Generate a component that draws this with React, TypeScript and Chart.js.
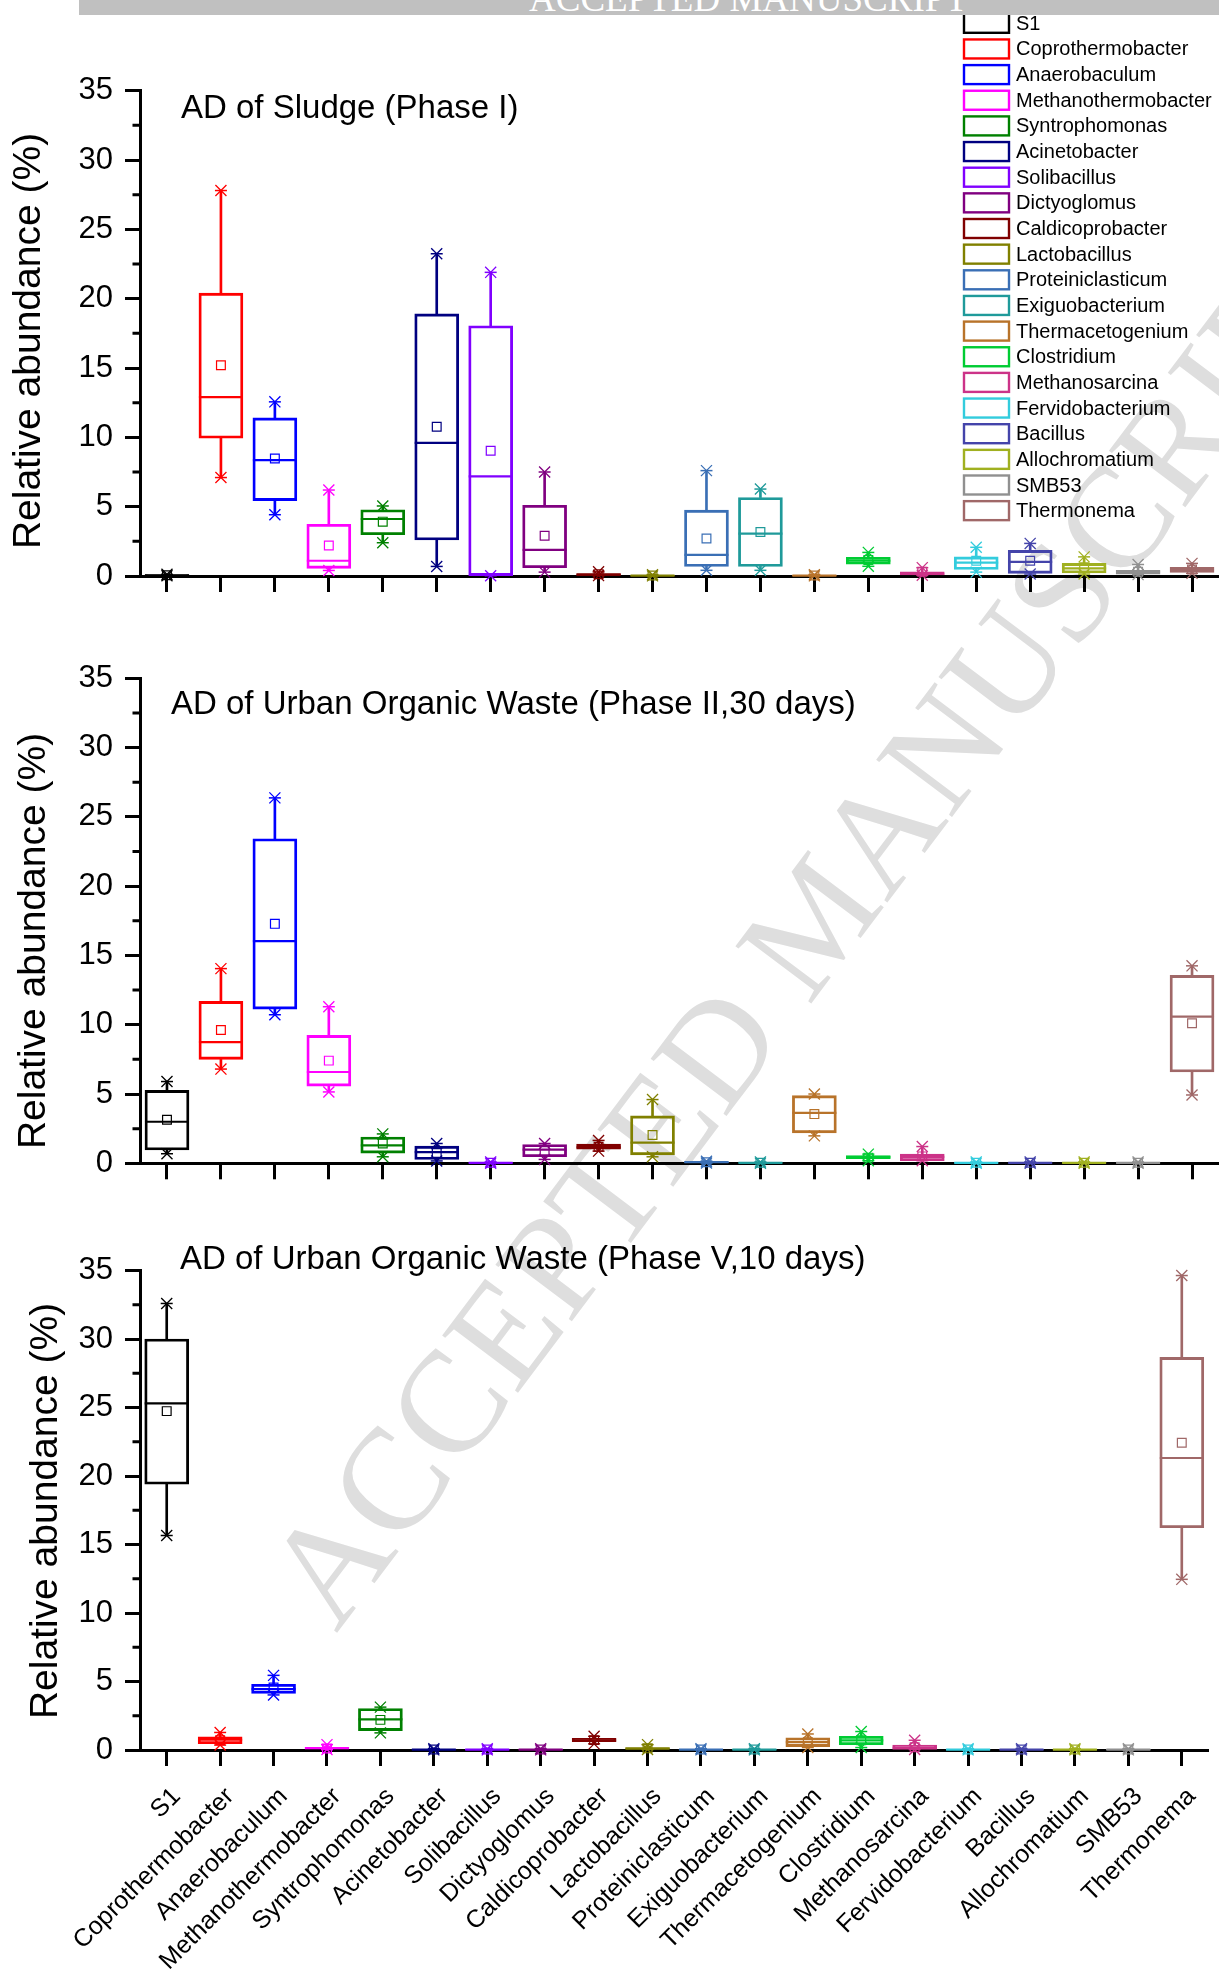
import React, { useEffect, useRef } from 'react';
import { Chart, registerables } from 'chart.js';

Chart.register(...registerables);

// ---------- data ----------
const categories = [
  'S1', 'Coprothermobacter', 'Anaerobaculum', 'Methanothermobacter', 'Syntrophomonas',
  'Acinetobacter', 'Solibacillus', 'Dictyoglomus', 'Caldicoprobacter', 'Lactobacillus',
  'Proteiniclasticum', 'Exiguobacterium', 'Thermacetogenium', 'Clostridium', 'Methanosarcina',
  'Fervidobacterium', 'Bacillus', 'Allochromatium', 'SMB53', 'Thermonema',
];

const colors = [
  '#000000', '#FF0000', '#0000FF', '#FF00FF', '#008000',
  '#000080', '#8000FF', '#800080', '#800000', '#808000',
  '#3A6FB5', '#1F9A9A', '#B8732A', '#00CC33', '#CC3388',
  '#33CCDD', '#4444AA', '#A0B020', '#909090', '#A06868',
];

const yTickValues = [0, 5, 10, 15, 20, 25, 30, 35];

// Panel 1: AD of Sludge (Phase I)
const p1Min = [0.02, 7.1, 4.42, 0.4, 2.4, 0.69, 0.02, 0.28, 0.03, 0.01, 0.41, 0.41, 0.01, 0.7, 0.05, 0.28, 0.14, 0.14, 0.1, 0.19];
const p1Q1 = [0.03, 9.94, 5.44, 0.55, 2.98, 2.6, 0.03, 0.6, 0.05, 0.02, 0.69, 0.69, 0.02, 0.85, 0.08, 0.47, 0.19, 0.22, 0.14, 0.25];
const p1Med = [0.05, 12.9, 8.36, 1.1, 4.11, 9.6, 7.18, 1.88, 0.1, 0.03, 1.52, 3.06, 0.03, 1.1, 0.15, 0.97, 1.02, 0.55, 0.28, 0.44];
const p1Mean = [0.06, 15.2, 8.47, 2.2, 3.92, 10.76, 9.03, 2.9, 0.12, 0.04, 2.7, 3.17, 0.04, 1.15, 0.3, 1.1, 1.1, 0.63, 0.3, 0.47];
const p1Q3 = [0.1, 20.4, 11.4, 3.73, 4.78, 18.9, 18.05, 5.1, 0.18, 0.05, 4.75, 5.66, 0.05, 1.35, 0.3, 1.38, 1.85, 0.91, 0.41, 0.63];
const p1Max = [0.12, 27.8, 12.56, 6.2, 5.05, 23.24, 21.9, 7.5, 0.3, 0.1, 7.6, 6.27, 0.1, 1.7, 0.6, 2.07, 2.35, 1.38, 0.83, 0.91];

// Panel 2: AD of Urban Organic Waste (Phase II, 30 days)
const p2Min = [0.69, 6.8, 10.72, 5.15, 0.47, 0.17, 0.01, 0.28, 0.88, 0.47, 0.02, 0.01, 1.98, 0.19, 0.19, 0.01, 0.01, 0.01, 0.01, 4.93];
const p2Q1 = [0.96, 7.5, 11.13, 5.57, 0.74, 0.28, 0.02, 0.47, 1.02, 0.61, 0.05, 0.02, 2.2, 0.33, 0.19, 0.02, 0.02, 0.02, 0.02, 6.59];
const p2Med = [3.0, 8.74, 16.04, 6.59, 1.3, 0.8, 0.03, 0.99, 1.16, 1.49, 0.08, 0.03, 3.64, 0.44, 0.47, 0.03, 0.03, 0.03, 0.03, 10.58];
const p2Mean = [3.14, 9.62, 17.28, 7.41, 1.43, 0.74, 0.04, 0.88, 1.2, 2.04, 0.08, 0.04, 3.55, 0.41, 0.5, 0.04, 0.04, 0.04, 0.04, 10.11];
const p2Q3 = [5.26, 11.68, 23.42, 9.23, 1.9, 1.24, 0.05, 1.35, 1.38, 3.42, 0.12, 0.05, 4.88, 0.55, 0.66, 0.05, 0.05, 0.05, 0.05, 13.56];
const p2Max = [5.9, 14.05, 26.37, 11.3, 2.12, 1.43, 0.1, 1.43, 1.65, 4.6, 0.15, 0.1, 5.0, 0.66, 1.21, 0.1, 0.1, 0.1, 0.1, 14.25];

// Panel 3: AD of Urban Organic Waste (Phase V, 10 days)
const p3Min = [15.66, 0.36, 4.02, 0.04, 1.25, 0.01, 0.01, 0.01, 0.45, 0.04, 0.01, 0.01, 0.18, 0.18, 0.04, 0.01, 0.01, 0.01, 0.01, 12.46];
const p3Q1 = [19.4, 0.46, 4.13, 0.07, 1.42, 0.02, 0.02, 0.02, 0.6, 0.07, 0.02, 0.02, 0.25, 0.39, 0.05, 0.02, 0.02, 0.02, 0.02, 16.23];
const p3Med = [25.3, 0.75, 4.45, 0.14, 2.24, 0.03, 0.03, 0.03, 0.7, 0.1, 0.03, 0.03, 0.57, 0.71, 0.15, 0.03, 0.03, 0.03, 0.03, 21.32];
const p3Mean = [24.74, 0.71, 4.56, 0.11, 2.2, 0.04, 0.04, 0.04, 0.72, 0.12, 0.04, 0.04, 0.57, 0.71, 0.2, 0.04, 0.04, 0.04, 0.04, 22.43];
const p3Q3 = [30.0, 0.96, 4.8, 0.2, 3.03, 0.05, 0.05, 0.05, 0.85, 0.18, 0.05, 0.05, 0.89, 1.0, 0.36, 0.05, 0.05, 0.05, 0.05, 28.66];
const p3Max = [32.6, 1.28, 5.45, 0.39, 3.13, 0.1, 0.1, 0.1, 1.0, 0.39, 0.1, 0.1, 1.17, 1.35, 0.71, 0.1, 0.1, 0.1, 0.1, 34.64];

const titles = [
  'AD of Sludge (Phase I)',
  'AD of Urban Organic Waste (Phase II,30 days)',
  'AD of Urban Organic Waste (Phase V,10 days)',
];
const yAxisTitle = 'Relative abundance (%)';

// ---------- layout ----------
const FONT = "'Liberation Sans', Arial, Helvetica, sans-serif";
const W = 1219;
const AXIS_LEFT = 140;

type Stats = { min: number[]; q1: number[]; med: number[]; mean: number[]; q3: number[]; max: number[] };
type Panel = {
  top: number; height: number; areaTop: number; areaBottom: number;
  title: string; titleX: number; titleY: number;
  yTitleX: number; yTitleY: number;
  showLabels: boolean; legend: boolean; stats: Stats;
};

const panels: Panel[] = [
  { top: 0, height: 640, areaTop: 90.7, areaBottom: 576, title: titles[0], titleX: 181, titleY: 118,
    yTitleX: 29.5, yTitleY: 341, showLabels: false, legend: true,
    stats: { min: p1Min, q1: p1Q1, med: p1Med, mean: p1Mean, q3: p1Q3, max: p1Max } },
  { top: 640, height: 600, areaTop: 38.3, areaBottom: 523.3, title: titles[1], titleX: 171, titleY: 74,
    yTitleX: 34, yTitleY: 301, showLabels: false, legend: false,
    stats: { min: p2Min, q1: p2Q1, med: p2Med, mean: p2Mean, q3: p2Q3, max: p2Max } },
  { top: 1240, height: 734, areaTop: 25, areaBottom: 510, title: titles[2], titleX: 180, titleY: 29,
    yTitleX: 46, yTitleY: 271, showLabels: true, legend: false,
    stats: { min: p3Min, q1: p3Q1, med: p3Med, mean: p3Mean, q3: p3Q3, max: p3Max } },
];

function decorPlugin(p: Panel) {
  return {
    id: 'decor',
    afterDraw(chart: any) {
      const ctx = chart.ctx as CanvasRenderingContext2D;
      const y = chart.scales.y;
      const left = chart.chartArea.left;
      ctx.save();
      // minor y ticks
      ctx.strokeStyle = '#000';
      ctx.lineWidth = 3;
      ctx.beginPath();
      for (let i = 0; i < yTickValues.length - 1; i++) {
        const v = (yTickValues[i] + yTickValues[i + 1]) / 2;
        const py = y.getPixelForValue(v);
        ctx.moveTo(left - 7.5, py);
        ctx.lineTo(left, py);
      }
      ctx.stroke();
      // panel title
      ctx.fillStyle = '#000';
      ctx.font = `33px ${FONT}`;
      ctx.textAlign = 'left';
      ctx.textBaseline = 'alphabetic';
      ctx.fillText(p.title, p.titleX, p.titleY);
      // y axis title
      ctx.save();
      ctx.translate(p.yTitleX, p.yTitleY);
      ctx.rotate(-Math.PI / 2);
      ctx.font = `39px ${FONT}`;
      ctx.textAlign = 'center';
      ctx.textBaseline = 'middle';
      ctx.fillText(yAxisTitle, 0, 0);
      ctx.restore();
      // legend
      if (p.legend) {
        const bx = 964, bw = 45, bh = 19, y0 = 23.3, step = 25.65;
        ctx.font = `20px ${FONT}`;
        ctx.textAlign = 'left';
        ctx.textBaseline = 'middle';
        categories.forEach((name, i) => {
          const cy = y0 + i * step;
          ctx.fillStyle = '#fff';
          ctx.fillRect(bx, cy - bh / 2, bw, bh);
          ctx.strokeStyle = colors[i];
          ctx.lineWidth = 2.4;
          ctx.strokeRect(bx, cy - bh / 2, bw, bh);
          ctx.fillStyle = '#000';
          ctx.fillText(name, 1016, cy + 1);
        });
      }
      ctx.restore();
    },
  };
}

function buildConfig(p: Panel): any {
  const s = p.stats;
  const pointSet = (data: number[], style: string, radius: number, width: number, order: number) => ({
    type: 'line',
    data,
    showLine: false,
    pointStyle: style,
    pointRadius: radius,
    pointHoverRadius: radius,
    pointBorderWidth: width,
    pointBorderColor: colors,
    pointBackgroundColor: 'rgba(0,0,0,0)',
    clip: false,
    order,
  });
  const datasets: any[] = [
    pointSet(s.mean, 'rect', 6.2, 1.2, 0),
    pointSet(s.med, 'line', 22, 2.2, 1),
    pointSet(s.max, 'crossRot', 7.8, 1.3, 2),
    pointSet(s.max, 'line', 6, 1.5, 3),
    pointSet(s.min, 'crossRot', 7.8, 1.3, 4),
    pointSet(s.min, 'line', 6, 1.5, 5),
    {
      type: 'bar',
      data: s.q1.map((v, i) => [v, s.q3[i]]),
      backgroundColor: 'rgba(0,0,0,0)',
      borderColor: colors,
      borderWidth: 2.2,
      borderSkipped: false,
      barThickness: 44,
      grouped: false,
      clip: false,
      order: 6,
    },
    {
      type: 'bar',
      data: s.q3.map((v, i) => [v, s.max[i]]),
      backgroundColor: colors,
      borderWidth: 0,
      barThickness: 2,
      grouped: false,
      clip: false,
      order: 7,
    },
    {
      type: 'bar',
      data: s.min.map((v, i) => [v, s.q1[i]]),
      backgroundColor: colors,
      borderWidth: 0,
      barThickness: 2,
      grouped: false,
      clip: false,
      order: 8,
    },
  ];
  return {
    type: 'bar',
    data: { labels: categories, datasets },
    options: {
      animation: false,
      responsive: false,
      maintainAspectRatio: false,
      events: [],
      layout: { autoPadding: false, padding: { top: p.areaTop, left: 0, right: 0, bottom: 0 } },
      plugins: { legend: { display: false }, tooltip: { enabled: false }, title: { display: false } },
      scales: {
        x: {
          type: 'category',
          offset: true,
          grid: { offset: false, drawOnChartArea: false, tickLength: 16, tickWidth: 3, color: '#000' },
          border: { display: true, color: '#000', width: 3 },
          ticks: {
            display: p.showLabels,
            autoSkip: false,
            maxRotation: 45,
            minRotation: 45,
            padding: 16,
            labelOffset: 10,
            color: '#000',
            font: { family: FONT, size: 25 },
          },
          afterFit: (scale: any) => { scale.height = p.height - p.areaBottom; },
        },
        y: {
          type: 'linear',
          min: 0,
          max: 35,
          grid: {
            drawOnChartArea: false,
            tickLength: 15,
            tickWidth: 3,
            color: '#000',
            tickColor: (c: any) => (c.tick && yTickValues.includes(c.tick.value) ? '#000' : 'rgba(0,0,0,0)'),
          },
          border: { display: true, color: '#000', width: 3 },
          ticks: {
            stepSize: 2.5,
            padding: 12,
            color: '#000',
            font: { family: FONT, size: 31 },
            callback: (v: number) => (yTickValues.includes(v) ? String(v) : ''),
          },
          afterFit: (scale: any) => { scale.width = AXIS_LEFT; },
        },
      },
    },
    plugins: [decorPlugin(p)],
  };
}

export default function App() {
  const r0 = useRef<HTMLCanvasElement>(null);
  const r1 = useRef<HTMLCanvasElement>(null);
  const r2 = useRef<HTMLCanvasElement>(null);
  const refs = [r0, r1, r2];

  useEffect(() => {
    document.body.style.margin = '0';
    const charts = panels.map((p, i) => new Chart(refs[i].current as HTMLCanvasElement, buildConfig(p)));
    return () => charts.forEach((c) => c.destroy());
  }, []);

  return (
    <div style={{ position: 'relative', width: W, height: 1974, overflow: 'hidden', background: '#fff' }}>
      {/* watermark */}
      <div
        style={{
          position: 'absolute', left: 815, top: 918, whiteSpace: 'nowrap',
          transform: 'translate(-50%, -50%) rotate(-53deg)',
          fontFamily: "'Liberation Serif', 'Times New Roman', serif", fontSize: 145, lineHeight: 1,
          color: '#dedede', zIndex: 0,
        }}
      >
        ACCEPTED MANUSCRIPT
      </div>
      {/* header bar */}
      <div
        style={{
          position: 'absolute', left: 79, top: 0, width: W - 79, height: 15, background: '#c0c0c0',
          overflow: 'hidden', zIndex: 2,
        }}
      >
        <span
          style={{
            position: 'absolute', left: 450, top: -20, whiteSpace: 'nowrap',
            fontFamily: "'Liberation Serif', 'Times New Roman', serif", fontSize: 37, lineHeight: 1, color: '#fff',
          }}
        >
          ACCEPTED MANUSCRIPT
        </span>
      </div>
      {panels.map((p, i) => (
        <canvas
          key={i}
          ref={refs[i]}
          width={W}
          height={p.height}
          style={{ position: 'absolute', left: 0, top: p.top, width: W, height: p.height, zIndex: 1 }}
        />
      ))}
    </div>
  );
}
